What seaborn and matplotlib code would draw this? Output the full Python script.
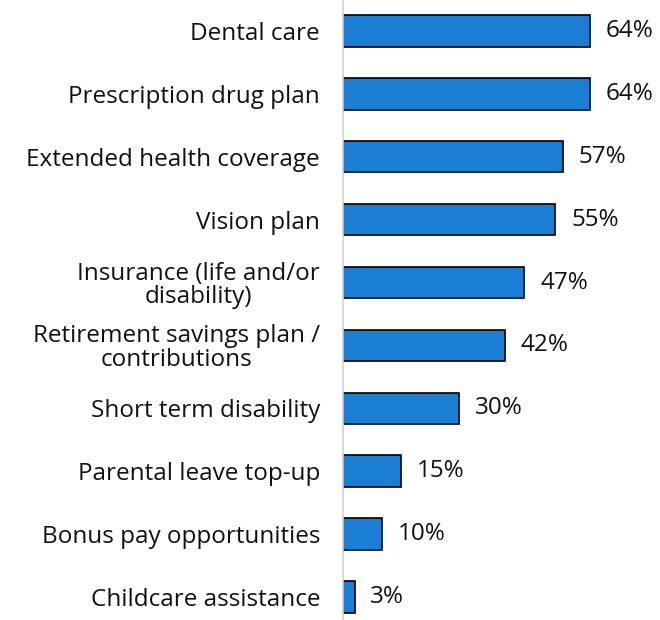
import matplotlib
matplotlib.use("Agg")
import matplotlib.pyplot as plt
import seaborn as sns
import pandas as pd

categories = ["Dental care", "Prescription drug plan", "Extended health coverage",
              "Vision plan", "Insurance (life and/or\ndisability)",
              "Retirement savings plan /\ncontributions", "Short term disability",
              "Parental leave top-up", "Bonus pay opportunities", "Childcare assistance"]
values = [64, 64, 57, 55, 47, 42, 30, 15, 10, 3]

df = pd.DataFrame({"cat": categories, "val": values})

sns.set_theme(style="white")
plt.rcParams['font.family'] = ['Open Sans', 'DejaVu Sans']

fig = plt.figure(figsize=(6.6, 6.2), dpi=100)
ax = fig.add_axes([343/660, 0, 1 - 343/660, 1])
sns.barplot(data=df, x="val", y="cat", orient="h", color="#1a7fd4", saturation=1,
            edgecolor="black", linewidth=1.2, width=0.5, ax=ax)
ax.set_xlim(0, (660 - 343) / 3.86)
ax.set_ylim(9.366, -0.493)
for s in ["top", "right", "bottom"]:
    ax.spines[s].set_visible(False)
ax.spines["left"].set_color("#d3d3d3")
ax.spines["left"].set_linewidth(1.2)
ax.set_xticks([])
ax.set_xlabel("")
ax.set_ylabel("")
ax.tick_params(axis="y", length=0, pad=16.5, labelsize=17.5, labelcolor="#111111")
for lbl in ax.get_yticklabels():
    lbl.set_horizontalalignment("right")
    lbl.set_multialignment("center")
    lbl.set_linespacing(0.95)
for i, v in enumerate(values):
    ax.text(v + 4.1, i, f"{v}%", va="center", ha="left", fontsize=17.5, color="#111111")

fig.savefig("out.png", dpi=100)
